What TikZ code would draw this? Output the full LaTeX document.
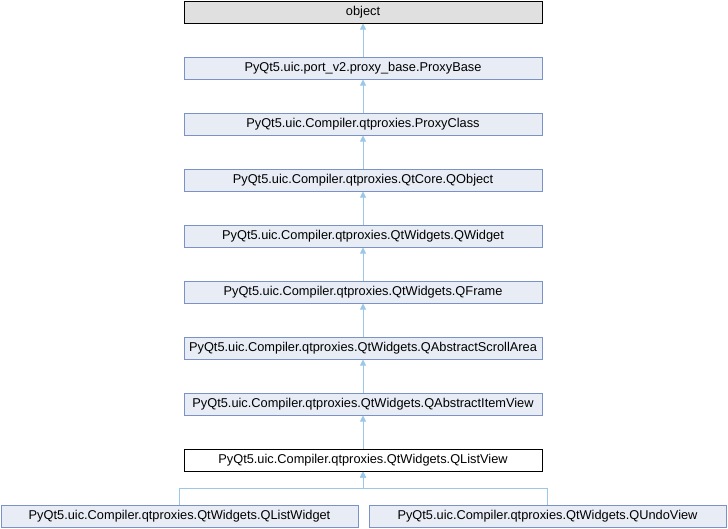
\documentclass[tikz,border=0pt]{standalone}
\usepackage{fontspec}
\setmainfont{Liberation Sans}
\usetikzlibrary{arrows.meta}
\definecolor{boxfill}{RGB}{232,236,245}
\definecolor{boxline}{RGB}{122,146,200}
\definecolor{edgeblue}{RGB}{155,200,230}
\definecolor{rootfill}{RGB}{224,224,224}
\begin{document}
\begin{tikzpicture}[x=1pt,y=-1pt,
  cls/.style={draw=boxline,fill=boxfill,line width=1pt,minimum width=358pt,minimum height=22pt,inner sep=0pt,font=\fontsize{12.8}{15}\selectfont},
  root/.style={cls,draw=black,fill=rootfill},
  self/.style={cls,draw=black,fill=white},
  inh/.style={draw=edgeblue,line width=1pt,-{Triangle[length=6pt,width=6pt,fill=edgeblue]}}]
\useasboundingbox (0,0) rectangle (728,528);
\node[root] (obj) at (363,12) {object};
\node[cls] (pbase) at (363,68) {PyQt5.uic.port\_v2.proxy\_base.ProxyBase};
\node[cls] (pclass) at (363,124) {PyQt5.uic.Compiler.qtproxies.ProxyClass};
\node[cls] (qobj) at (363,180) {PyQt5.uic.Compiler.qtproxies.QtCore.QObject};
\node[cls] (qwid) at (363,236) {PyQt5.uic.Compiler.qtproxies.QtWidgets.QWidget};
\node[cls] (qframe) at (363,292) {PyQt5.uic.Compiler.qtproxies.QtWidgets.QFrame};
\node[cls] (qscroll) at (363,348) {PyQt5.uic.Compiler.qtproxies.QtWidgets.QAbstractScrollArea};
\node[cls] (qitem) at (363,404) {PyQt5.uic.Compiler.qtproxies.QtWidgets.QAbstractItemView};
\node[self] (qlist) at (363,460) {PyQt5.uic.Compiler.qtproxies.QtWidgets.QListView};
\node[cls,minimum width=357pt] (qlwid) at (179.5,516) {PyQt5.uic.Compiler.qtproxies.QtWidgets.QListWidget};
\node[cls,minimum width=357pt] (qundo) at (547.5,516) {PyQt5.uic.Compiler.qtproxies.QtWidgets.QUndoView};
\coordinate (bus) at (363,488);
\draw[inh] (pbase) -- (obj);
\draw[inh] (pclass) -- (pbase);
\draw[inh] (qobj) -- (pclass);
\draw[inh] (qwid) -- (qobj);
\draw[inh] (qframe) -- (qwid);
\draw[inh] (qscroll) -- (qframe);
\draw[inh] (qitem) -- (qscroll);
\draw[inh] (qlist) -- (qitem);
\draw[inh] (qlwid.north) |- (bus) -- (qlist.south);
\draw[inh] (qundo.north) |- (bus) -- (qlist.south);
\end{tikzpicture}
\end{document}
